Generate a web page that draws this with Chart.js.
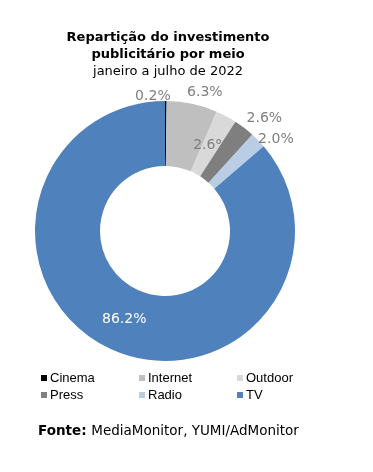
<!DOCTYPE html>
<html>
<head>
<meta charset="utf-8">
<script src="https://cdn.jsdelivr.net/npm/chart.js@4/dist/chart.umd.min.js"></script>
<style>
  html, body { margin: 0; padding: 0; background: #fff; }
  #wrap { position: relative; width: 373px; height: 472px; }
</style>
</head>
<body>
<div id="wrap"><canvas id="chart" width="373" height="472"></canvas></div>
<script>
// data
const categories = ['Cinema', 'Internet', 'Outdoor', 'Press', 'Radio', 'TV'];
const shares = [0.2, 6.3, 2.6, 2.6, 2.0, 86.2];
const colors = ['#000000', '#bfbfbf', '#d9d9d9', '#7f7f7f', '#b9cde5', '#4f81bd'];
const titleLines = ['Repartição do investimento', 'publicitário por meio'];
const subtitle = 'janeiro a julho de 2022';

// label placement: 'in' = middle of the ring, otherwise radius / angle nudge outside
const labelSpots = [
  { r: 135, da: -5.5 },
  { r: 144, da: 4 },
  { r: 'in', da: 0 },
  { r: 150, da: 4 },
  { r: 144, da: 4.6 },
  { r: 'in', da: 0 },
];

const FONT = "'DejaVu Sans', Verdana, sans-serif";

// draws % labels, title, legend and source line
const decorations = {
  id: 'decorations',
  afterDatasetsDraw(chart) {
    const ctx = chart.ctx;
    const arcs = chart.getDatasetMeta(0).data;
    ctx.save();
    ctx.textBaseline = 'middle';
    ctx.textAlign = 'center';
    ctx.font = '14px ' + FONT;
    arcs.forEach((arc, i) => {
      const p = arc.getProps(['x', 'y', 'startAngle', 'endAngle', 'innerRadius', 'outerRadius'], true);
      const spot = labelSpots[i];
      const mid = (p.startAngle + p.endAngle) / 2 + spot.da * Math.PI / 180;
      const r = spot.r === 'in' ? (p.innerRadius + p.outerRadius) / 2 : spot.r;
      ctx.fillStyle = i === 5 ? '#ffffff' : '#7f7f7f';
      ctx.fillText(shares[i].toFixed(1) + '%', p.x + Math.cos(mid) * r, p.y + Math.sin(mid) * r);
    });
    ctx.restore();
  },
  afterDraw(chart) {
    const ctx = chart.ctx;
    ctx.save();
    ctx.fillStyle = '#000';
    ctx.textBaseline = 'middle';
    ctx.textAlign = 'center';

    // title
    ctx.font = 'bold 13px ' + FONT;
    titleLines.forEach((t, i) => ctx.fillText(t, 168, 38 + i * 17));
    ctx.font = '13px ' + FONT;
    ctx.fillText(subtitle, 168, 72);

    // legend, 3 columns
    ctx.textAlign = 'left';
    ctx.font = "13px 'Liberation Sans', Arial, sans-serif";
    categories.forEach((c, i) => {
      const col = i % 3, row = Math.floor(i / 3);
      const x = 41 + col * 98, y = 378 + row * 17;
      ctx.fillStyle = colors[i];
      ctx.fillRect(x, y - 3, 6, 6);
      ctx.fillStyle = '#000';
      ctx.fillText(c, x + 9, y);
    });

    // source
    ctx.font = 'bold 13.5px ' + FONT;
    ctx.fillText('Fonte:', 38, 431);
    const w = ctx.measureText('Fonte: ').width;
    ctx.font = '13.5px ' + FONT;
    ctx.fillText('MediaMonitor, YUMI/AdMonitor', 38 + w, 431);
    ctx.restore();
  },
};

new Chart(document.getElementById('chart').getContext('2d'), {
  type: 'doughnut',
  data: {
    labels: categories,
    datasets: [{
      data: shares,
      backgroundColor: colors,
      borderWidth: 0,
    }],
  },
  options: {
    responsive: false,
    animation: false,
    cutout: '50%',
    layout: { padding: { left: 35, right: 78, top: 101, bottom: 111 } },
    plugins: {
      legend: { display: false },
      title: { display: false },
      tooltip: { enabled: false },
    },
  },
  plugins: [decorations],
});
</script>
</body>
</html>
